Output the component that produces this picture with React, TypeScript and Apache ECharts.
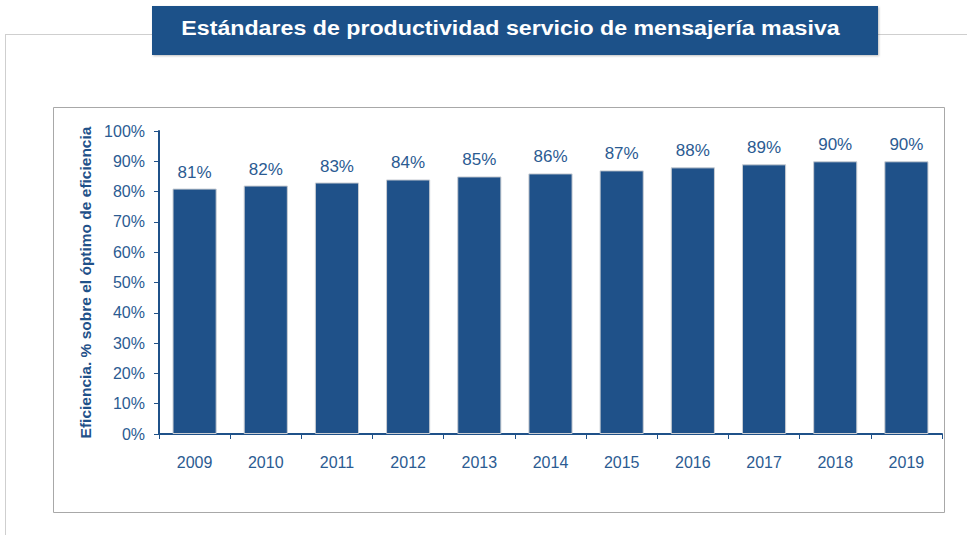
import React, { useEffect, useRef } from "react";
import * as echarts from "echarts";

const categories = ["2009", "2010", "2011", "2012", "2013", "2014", "2015", "2016", "2017", "2018", "2019"];
const values = [81, 82, 83, 84, 85, 86, 87, 88, 89, 90, 90];
const titleText = "Estándares de productividad servicio de mensajería masiva";
const yAxisName = "Eficiencia. % sobre el óptimo de eficiencia";

const BLUE = "#1F5189";
const TEXT = "#2B5B92";
const FONT = "'Liberation Sans', Arial, sans-serif";

export default function App() {
  const ref = useRef<HTMLDivElement>(null);
  useEffect(() => {
    if (!ref.current) return;
    const chart = echarts.init(ref.current, null, { renderer: "svg" });
    chart.setOption({
      animation: false,
      backgroundColor: "#ffffff",
      textStyle: { fontFamily: FONT },
      graphic: [
        { type: "line", shape: { x1: 5, y1: 34.5, x2: 967, y2: 34.5 }, style: { stroke: "#cfcfcf", lineWidth: 1 }, z: 0 },
        { type: "line", shape: { x1: 5.5, y1: 34, x2: 5.5, y2: 535 }, style: { stroke: "#cfcfcf", lineWidth: 1 }, z: 0 },
        { type: "rect", shape: { x: 53.5, y: 107.5, width: 891, height: 405 }, style: { fill: "none", stroke: "#a8a8a8", lineWidth: 1 }, z: 0 },
        {
          type: "rect",
          shape: { x: 152, y: 6, width: 726, height: 49 },
          style: { fill: BLUE, shadowBlur: 2, shadowColor: "rgba(0,0,0,0.25)", shadowOffsetX: 1, shadowOffsetY: 1 },
          z: 1,
        },
        {
          type: "text",
          x: 510.5,
          y: 28,
          scaleX: 1.16,
          style: {
            text: titleText,
            fill: "#ffffff",
            font: "bold 20px " + FONT,
            align: "center",
            verticalAlign: "middle",
          },
          z: 2,
        },
      ],
      grid: { left: 159, top: 131, right: 25, bottom: 101, containLabel: false },
      xAxis: {
        type: "category",
        data: categories,
        axisLine: { show: true, lineStyle: { color: BLUE, width: 2 } },
        axisTick: { show: true, alignWithLabel: false, length: 5, lineStyle: { color: BLUE, width: 1 } },
        axisLabel: { color: TEXT, fontSize: 16, margin: 20, fontFamily: FONT },
        splitLine: { show: false },
      },
      yAxis: {
        type: "value",
        min: 0,
        max: 100,
        interval: 10,
        name: yAxisName,
        nameLocation: "middle",
        nameGap: 66,
        nameRotate: 90,
        nameTextStyle: { color: BLUE, fontSize: 15.5, fontWeight: "bold", fontFamily: FONT },
        axisLine: { show: true, lineStyle: { color: BLUE, width: 2 } },
        axisTick: { show: true, length: 5, lineStyle: { color: BLUE, width: 1 } },
        axisLabel: { color: TEXT, fontSize: 16, margin: 14, formatter: "{value}%", fontFamily: FONT },
        splitLine: { show: false },
      },
      series: [
        {
          type: "bar",
          data: values,
          barWidth: "62%",
          itemStyle: { color: BLUE, borderColor: "#c9cdd3", borderWidth: 1 },
          label: {
            show: true,
            position: "top",
            distance: 8,
            formatter: "{c}%",
            color: TEXT,
            fontSize: 17,
            fontFamily: FONT,
          },
        },
      ],
    });
    return () => chart.dispose();
  }, []);
  return <div ref={ref} style={{ width: 967, height: 535, position: "absolute", left: 0, top: 0 }} />;
}
